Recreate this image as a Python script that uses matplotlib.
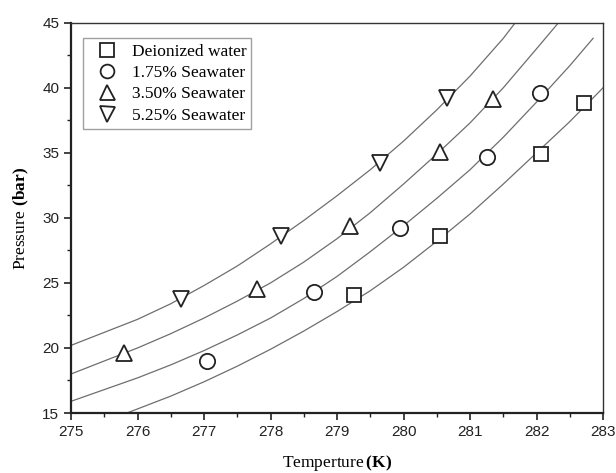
import numpy as np
import matplotlib
matplotlib.use('Agg')
from matplotlib import pyplot as plt

#model curves
t_di = [275.84, 276.5, 277.0, 277.5, 278.0, 278.5, 279.0, 279.5, 280.0, 280.5, 281.0, 281.5, 282.0, 282.5, 283.0]
p_di = [15.0, 16.3, 17.4, 18.6, 19.9, 21.3, 22.8, 24.4, 26.2, 28.2, 30.3, 32.6, 35.0, 37.4, 40.0]

t_175 = [275.0, 275.5, 276.0, 276.5, 277.0, 277.5, 278.0, 278.5, 279.0, 279.5, 280.0, 280.5, 281.0, 281.5, 282.0, 282.5, 282.85]
p_175 = [15.9, 16.8, 17.7, 18.7, 19.8, 21.0, 22.3, 23.8, 25.5, 27.4, 29.4, 31.5, 33.7, 36.2, 38.9, 41.7, 43.8]

t_350 = [275.0, 275.5, 276.0, 276.5, 277.0, 277.5, 278.0, 278.5, 279.0, 279.5, 280.0, 280.5, 281.0, 281.5, 282.0, 282.33]
p_350 = [18.0, 19.0, 20.0, 21.1, 22.3, 23.6, 25.0, 26.6, 28.4, 30.4, 32.6, 34.9, 37.3, 40.0, 43.0, 45.0]

t_525 = [275.0, 275.5, 276.0, 276.5, 277.0, 277.5, 278.0, 278.5, 279.0, 279.5, 280.0, 280.5, 281.0, 281.5, 281.68]
p_525 = [20.2, 21.2, 22.2, 23.4, 24.8, 26.3, 28.0, 29.8, 31.7, 33.7, 35.9, 38.3, 40.9, 43.8, 45.0]

#experimental points
xt_di = [279.25, 280.55, 282.06, 282.71]
xp_di = [24.1, 28.6, 34.9, 38.85]
xt_175 = [277.05, 278.65, 279.95, 281.25, 282.05]
xp_175 = [19.0, 24.3, 29.2, 34.65, 39.6]
xt_350 = [275.8, 277.79, 279.2, 280.55, 281.35]
xp_350 = [19.6, 24.5, 29.35, 35.1, 39.15]
xt_525 = [276.65, 278.16, 279.65, 280.65]
xp_525 = [23.8, 28.6, 34.2, 39.2]

labels = ['Deionized water', '1.75% Seawater', '3.50% Seawater', '5.25% Seawater']

plt.rcParams['font.family'] = 'Liberation Sans'
plt.rcParams['mathtext.fontset'] = 'custom'
plt.rcParams['mathtext.rm'] = 'Liberation Serif'
plt.rcParams['mathtext.bf'] = 'Liberation Serif:bold'

fig = plt.figure(figsize=(6.16, 4.73), dpi=100)
ax = fig.add_axes([0.1153, 0.1268, 0.8637, 0.8252])

#curves
for t, p in [(t_di, p_di), (t_175, p_175), (t_350, p_350), (t_525, p_525)]:
    ax.plot(t, p, color='#6e6e6e', lw=0.9, zorder=1)

#markers
mk = dict(mfc='white', mec='#222222', mew=1.3, ls='none', zorder=3)
ax.plot(xt_di, xp_di, marker='s', ms=10.5, label=labels[0], **mk)
ax.plot(xt_175, xp_175, marker='o', ms=11, label=labels[1], **mk)
ax.plot(xt_350, xp_350, marker='^', ms=12, label=labels[2], **mk)
ax.plot(xt_525, xp_525, marker='v', ms=12, label=labels[3], **mk)

ax.set_xlim(275, 283)
ax.set_ylim(15, 45)
ax.set_xticks(np.arange(275, 284, 1))
ax.set_yticks(np.arange(15, 46, 5))
ax.set_xticks(np.arange(275.5, 283, 1), minor=True)
ax.set_yticks(np.arange(17.5, 45, 5), minor=True)
ax.tick_params(which='major', direction='out', length=5, width=1.2, labelsize=11, colors='#222222')
ax.tick_params(which='minor', direction='out', length=3, width=1.0, colors='#222222')
ax.tick_params(top=False, right=False)

for s in ['left', 'bottom']:
    ax.spines[s].set_linewidth(1.6)
    ax.spines[s].set_color('#222222')
for s in ['top', 'right']:
    ax.spines[s].set_linewidth(1.0)
    ax.spines[s].set_color('#333333')

ax.set_xlabel(r'$\mathrm{Temperture}\,\mathbf{(K)}$', fontsize=12.5, labelpad=10)
ax.set_ylabel(r'$\mathrm{Pressure}\ \mathbf{(bar)}$', fontsize=12.5, labelpad=8)

leg = ax.legend(loc='upper left', bbox_to_anchor=(0.0226, 0.96), frameon=True, fancybox=False,
                edgecolor='#888888', prop={'family': 'Liberation Serif', 'size': 12.5},
                handletextpad=0.3, labelspacing=0.3, borderpad=0.3, handlelength=2.2,
                markerscale=0.9, borderaxespad=0)
leg.get_frame().set_linewidth(1.0)

plt.savefig('out.png', dpi=100)
